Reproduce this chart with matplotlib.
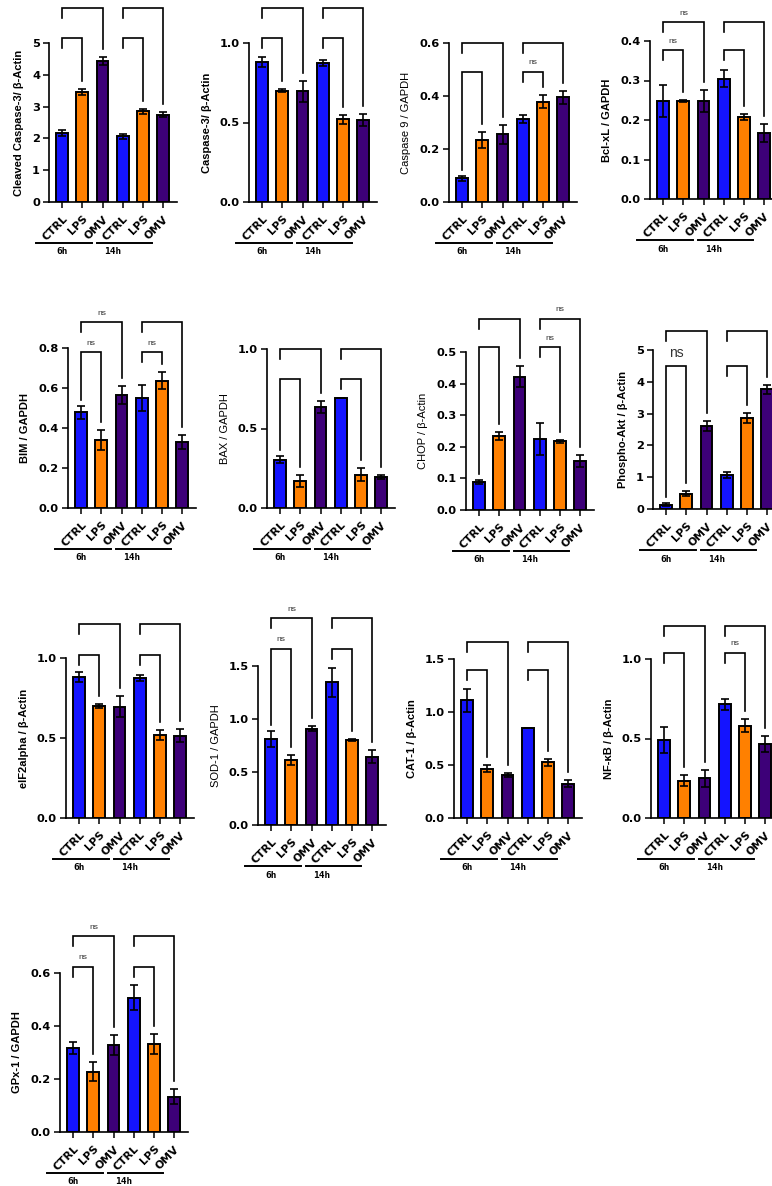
"""Western blot densitometry panels: 6h / 14h, CTRL vs LPS vs OMV, drawn as GraphPad-style bar charts."""

import matplotlib
matplotlib.use("Agg")
from matplotlib import pyplot as plt

# ---- data -------------------------------------------------------------
groups = ["CTRL", "LPS", "OMV", "CTRL", "LPS", "OMV"]
times = ["6h", "14h"]

cleaved_casp3 = [2.17, 3.47, 4.44, 2.07, 2.85, 2.75]
cleaved_casp3_err = [0.09, 0.09, 0.13, 0.08, 0.08, 0.09]

casp3 = [0.88, 0.70, 0.695, 0.875, 0.52, 0.515]
casp3_err = [0.03, 0.01, 0.065, 0.02, 0.03, 0.04]

casp9 = [0.09, 0.235, 0.255, 0.313, 0.378, 0.395]
casp9_err = [0.01, 0.03, 0.037, 0.015, 0.025, 0.024]

bclxl = [0.248, 0.248, 0.248, 0.305, 0.208, 0.167]
bclxl_err = [0.04, 0.002, 0.028, 0.021, 0.007, 0.022]

bim = [0.478, 0.342, 0.565, 0.55, 0.637, 0.33]
bim_err = [0.033, 0.05, 0.047, 0.065, 0.042, 0.035]

bax = [0.305, 0.17, 0.635, 0.69, 0.21, 0.195]
bax_err = [0.02, 0.04, 0.04, 0.0, 0.043, 0.012]

chop = [0.088, 0.235, 0.422, 0.225, 0.217, 0.155]
chop_err = [0.007, 0.012, 0.033, 0.05, 0.005, 0.02]

p_akt = [0.13, 0.48, 2.61, 1.07, 2.87, 3.77]
p_akt_err = [0.05, 0.08, 0.15, 0.09, 0.15, 0.14]

eif2a = [0.88, 0.70, 0.695, 0.875, 0.52, 0.515]
eif2a_err = [0.03, 0.01, 0.065, 0.02, 0.03, 0.04]

sod1 = [0.815, 0.615, 0.91, 1.345, 0.80, 0.645]
sod1_err = [0.075, 0.05, 0.02, 0.14, 0.012, 0.06]

cat1 = [1.11, 0.465, 0.405, 0.845, 0.525, 0.325]
cat1_err = [0.11, 0.035, 0.018, 0.0, 0.035, 0.035]

nfkb = [0.49, 0.235, 0.25, 0.715, 0.58, 0.465]
nfkb_err = [0.08, 0.035, 0.055, 0.035, 0.04, 0.05]

gpx1 = [0.318, 0.228, 0.328, 0.507, 0.333, 0.133]
gpx1_err = [0.023, 0.036, 0.037, 0.048, 0.037, 0.028]

# comparisons: (6h CTRL-LPS, 6h CTRL-OMV, 14h CTRL-LPS, 14h CTRL-OMV)
pairs = [(0, 1), (0, 2), (3, 4), (3, 5)]

panels = [
    dict(label="Cleaved Caspase-3/ β-Actin", y=cleaved_casp3, e=cleaved_casp3_err,
         ticks=[0, 1, 2, 3, 4, 5], ns=[0, 0, 0, 0]),
    dict(label="Caspase-3/ β-Actin", y=casp3, e=casp3_err,
         ticks=[0.0, 0.5, 1.0], ns=[0, 0, 0, 0]),
    dict(label="Caspase 9 / GAPDH", y=casp9, e=casp9_err,
         ticks=[0.0, 0.2, 0.4, 0.6], ns=[0, 0, 1, 0]),
    dict(label="Bcl-xL / GAPDH", y=bclxl, e=bclxl_err,
         ticks=[0.0, 0.1, 0.2, 0.3, 0.4], ns=[1, 1, 0, 0]),
    dict(label="BIM / GAPDH", y=bim, e=bim_err,
         ticks=[0.0, 0.2, 0.4, 0.6, 0.8], ns=[1, 1, 1, 0]),
    dict(label="BAX / GAPDH", y=bax, e=bax_err,
         ticks=[0.0, 0.5, 1.0], ns=[0, 0, 0, 0]),
    dict(label="CHOP / β-Actin", y=chop, e=chop_err,
         ticks=[0.0, 0.1, 0.2, 0.3, 0.4, 0.5], ns=[0, 0, 1, 1]),
    dict(label="Phospho-Akt / β-Actin", y=p_akt, e=p_akt_err,
         ticks=[0, 1, 2, 3, 4, 5], ns=[1, 0, 0, 0]),
    dict(label="eIF2alpha / β-Actin", y=eif2a, e=eif2a_err,
         ticks=[0.0, 0.5, 1.0], ns=[0, 0, 0, 0]),
    dict(label="SOD-1 / GAPDH", y=sod1, e=sod1_err,
         ticks=[0.0, 0.5, 1.0, 1.5], ns=[1, 1, 0, 0]),
    dict(label="CAT-1 / β-Actin", y=cat1, e=cat1_err,
         ticks=[0.0, 0.5, 1.0, 1.5], ns=[0, 0, 0, 0]),
    dict(label="NF-κB / β-Actin", y=nfkb, e=nfkb_err,
         ticks=[0.0, 0.5, 1.0], ns=[0, 0, 1, 0]),
    dict(label="GPx-1 / GAPDH", y=gpx1, e=gpx1_err,
         ticks=[0.0, 0.2, 0.4, 0.6], ns=[1, 1, 0, 0]),
]

# ---- layout (pixels): y-axis x, baseline y, axis height, bracket levels (fraction of axis),
#      long left leg on first bracket, bold label, big ns
layout = [
    (49, 202, 159, (1.03, 1.22), False, True, False),
    (249, 202, 159, (1.03, 1.22), False, True, False),
    (449, 202, 159, (0.82, 1.00), True, False, False),
    (650, 199, 158, (0.94, 1.12), False, True, False),
    (68, 508, 160, (0.975, 1.16), True, True, False),
    (267, 508, 159, (0.81, 1.00), True, False, False),
    (466, 510, 158, (1.03, 1.21), True, False, False),
    (653, 509, 159, (0.90, 1.12), True, True, True),
    (66, 818, 160, (1.02, 1.21), False, True, False),
    (258, 825, 159, (1.11, 1.30), True, False, False),
    (454, 818, 159, (0.93, 1.11), False, True, False),
    (651, 818, 159, (1.04, 1.21), False, True, False),
    (60, 1132, 159, (1.04, 1.23), False, True, False),
]

W, H = 772, 1186
BAR_STEP = 20.2  # px between bars
colors = ["#1414ff", "#ff8000", "#3d0078"] * 2


def draw_panel(fig, spec, lay):
    "One GraphPad-like bar panel with brackets below/above and group lines."
    x0, y0, h, levels, long_left, bold, big_ns = lay
    xlim = (-0.65, 5.7)
    w = (xlim[1] - xlim[0]) * BAR_STEP
    ax = fig.add_axes([x0 / W, (H - y0) / H, w / W, h / H])
    ymax = spec["ticks"][-1]
    upp = ymax / h  # data units per pixel

    xs = list(range(6))
    ax.bar(xs, spec["y"], width=0.58, color=colors, edgecolor="black", linewidth=1.4, zorder=2)
    ax.errorbar(xs, spec["y"], yerr=spec["e"], fmt="none", ecolor="black",
                elinewidth=1.2, capsize=3.2, capthick=1.2, zorder=3)

    ax.set_xlim(*xlim)
    ax.set_ylim(0, ymax)
    ax.set_yticks(spec["ticks"])
    if isinstance(spec["ticks"][1], int):
        ax.set_yticklabels([str(t) for t in spec["ticks"]])
    else:
        ax.set_yticklabels([f"{t:.1f}" for t in spec["ticks"]])
    ax.set_xticks(xs)
    ax.set_xticklabels(groups, rotation=45, ha="right", rotation_mode="anchor",
                       fontsize=7.8, fontweight="bold", family="DejaVu Sans")
    for lab in ax.get_yticklabels():
        lab.set_fontsize(8.2)
        lab.set_fontweight("bold")
        lab.set_family("DejaVu Sans")
    ax.tick_params(axis="both", direction="out", length=4.5, width=1.1, pad=2)
    ax.tick_params(axis="x", pad=4)
    for s in ("top", "right"):
        ax.spines[s].set_visible(False)
    for s in ("left", "bottom"):
        ax.spines[s].set_linewidth(1.2)
    ax.set_ylabel(spec["label"], fontsize=8, family="Liberation Sans",
                  fontweight="bold" if bold else "normal", labelpad=6)

    # group lines and time labels under the x labels
    tr = ax.get_xaxis_transform()
    line_y = -41 / h
    ax.plot([-1.3, 1.47], [line_y, line_y], color="black", lw=1.4, transform=tr, clip_on=False)
    ax.plot([1.72, 4.45], [line_y, line_y], color="black", lw=1.4, transform=tr, clip_on=False)
    for t, xc in zip(times, [0.0, 2.5]):
        ax.text(xc, -50 / h, t, transform=tr, ha="center", va="center",
                fontsize=6.8, fontweight="bold", family="DejaVu Sans Mono")

    # significance brackets
    tops = [v + e for v, e in zip(spec["y"], spec["e"])]
    for k, (i, j) in enumerate(pairs):
        lev = levels[k % 2] * ymax
        if k == 0 and long_left:
            left_bot = tops[i] + 6 * upp
        else:
            left_bot = lev - 10 * upp
        right_bot = tops[j] + 8 * upp
        ax.plot([i, i, j, j], [left_bot, lev, lev, right_bot], color="black", lw=1.2,
                clip_on=False, solid_joinstyle="miter", zorder=4)
        if spec["ns"][k]:
            if big_ns:
                ax.text((i + j) / 2, lev + 13 * upp, "ns", ha="center", va="center",
                        fontsize=10, color="#333333", family="Liberation Sans")
            else:
                ax.text((i + j) / 2, lev + 9 * upp, "ns", ha="center", va="center",
                        fontsize=6, color="#333333", family="Liberation Sans")
    return ax


def main():
    fig = plt.figure(figsize=(W / 100, H / 100), dpi=100)
    for spec, lay in zip(panels, layout):
        draw_panel(fig, spec, lay)
    fig.savefig("out.png", dpi=100, facecolor="white")


main()
